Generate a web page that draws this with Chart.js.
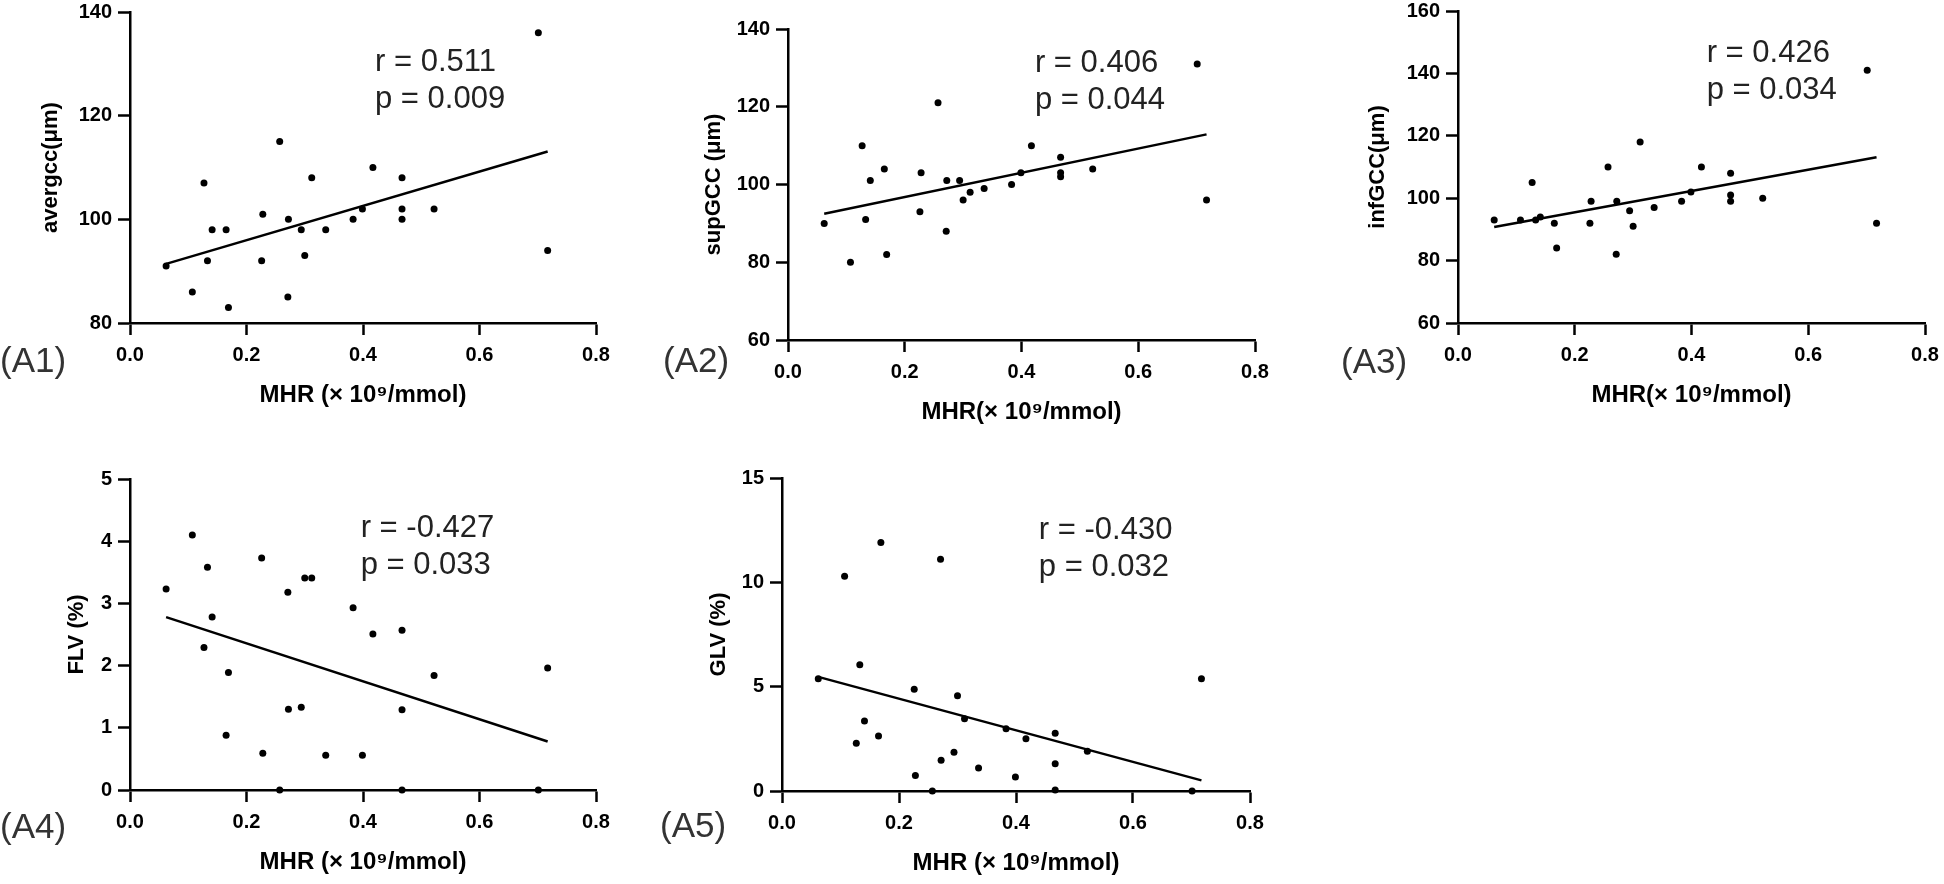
<!DOCTYPE html>
<html>
<head>
<meta charset="utf-8">
<script src="https://cdn.jsdelivr.net/npm/chart.js@4.4.1/dist/chart.umd.min.js"></script>
<style>
  html, body { margin: 0; padding: 0; background: #fff; }
  body { width: 1944px; height: 884px; position: relative; overflow: hidden; }
  canvas { position: absolute; }
</style>
</head>
<body>
<canvas id="a1"></canvas>
<canvas id="a2"></canvas>
<canvas id="a3"></canvas>
<canvas id="a4"></canvas>
<canvas id="a5"></canvas>
<script>
// MHR (x10^9/mmol), same patients in every panel
const mhr = [0.062, 0.107, 0.127, 0.133, 0.141, 0.165, 0.169, 0.226, 0.228, 0.257, 0.271, 0.272, 0.294,
             0.300, 0.312, 0.336, 0.383, 0.399, 0.417, 0.467, 0.467, 0.467, 0.522, 0.701, 0.717];

const avergcc = [91, 86, 107, 92, 98, 98, 83, 92, 101, 115, 85, 100, 98, 93, 108, 98, 100, 102, 110, 108, 102, 100, 102, 136, 94];
const supGCC  = [90, 80, 110, 91, 101, 104, 82, 93, 103, 121, 88, 101, 101, 96, 98, 99, 100, 103, 110, 107, 103, 102, 104, 131, 96];
const infGCC  = [93, 93, 105, 93, 94, 92, 84, 92, 99, 110, 82, 99, 96, 91, 118, 97, 99, 102, 110, 108, 101, 99, 100, 141, 92];
const flv     = [3.23, 4.10, 2.29, 3.58, 2.78, 0.88, 1.89, 3.73, 0.59, 0, 3.18, 1.30, 1.33, 3.41, 3.41, 0.56, 2.93, 0.56, 2.51, 2.57, 1.29, 0, 1.84, 0, 1.96];
const glv     = [5.38, 10.29, 2.29, 6.05, 3.36, 2.63, 11.91, 4.88, 0.74, 0, 11.11, 1.47, 1.86, 4.56, 3.46, 1.10, 2.98, 0.67, 2.50, 2.77, 1.31, 0.05, 1.90, 0, 5.38];

// regression line ends
const fitX = [0.062, 0.717];
const fitAvergcc = [91.4, 113.1];
const fitSupGCC  = [92.5, 112.9];
const fitInfGCC  = [90.8, 113.1];
const fitFlv     = [2.78, 0.78];
const fitGlv     = [5.47, 0.51];

// tick labels
const xTicks = [0, 0.2, 0.4, 0.6, 0.8];
const ticksA1 = [80, 100, 120, 140];
const ticksA2 = [60, 80, 100, 120, 140];
const ticksA3 = [60, 80, 100, 120, 140, 160];
const ticksA4 = [0, 1, 2, 3, 4, 5];
const ticksA5 = [0, 5, 10, 15];

const FONT = "'Liberation Sans', Arial, sans-serif";
Chart.defaults.font.family = FONT;
Chart.defaults.color = '#000';

const Y_AXIS_W = 140;   // fixed room left of the plot
const X_AXIS_H = 100;   // fixed room below the plot
const Y_TITLE_SIZE = 22;
const X_TITLE_SIZE = 24;

const panels = [
  { id: 'a1', box: [130, 12, 596, 323], ys: avergcc, fit: fitAvergcc, yTicks: ticksA1,
    yTitle: 'avergcc(μm)', xTitle: 'MHR (× 10⁹/mmol)', yTitleDx: -79,
    r: '0.511', p: '0.009', at: [0.4206, 130.2], label: '(A1)', labelAt: [-130, 39] },
  { id: 'a2', box: [788, 29, 1255, 340], ys: supGCC, fit: fitSupGCC, yTicks: ticksA2,
    yTitle: 'supGCC (μm)', xTitle: 'MHR(× 10⁹/mmol)', yTitleDx: -74.5,
    r: '0.406', p: '0.044', at: [0.423, 131.2], label: '(A2)', labelAt: [-125, 22] },
  { id: 'a3', box: [1458, 11, 1925, 323], ys: infGCC, fit: fitInfGCC, yTicks: ticksA3,
    yTitle: 'infGCC(μm)', xTitle: 'MHR(× 10⁹/mmol)', yTitleDx: -79.6,
    r: '0.426', p: '0.034', at: [0.426, 146.5], label: '(A3)', labelAt: [-117, 40] },
  { id: 'a4', box: [130, 479, 596, 790], ys: flv, fit: fitFlv, yTicks: ticksA4,
    yTitle: 'FLV (%)', xTitle: 'MHR (× 10⁹/mmol)', yTitleDx: -53,
    r: '-0.427', p: '0.033', at: [0.396, 4.21], label: '(A4)', labelAt: [-130, 38] },
  { id: 'a5', box: [782, 478, 1250, 791], ys: glv, fit: fitGlv, yTicks: ticksA5,
    yTitle: 'GLV (%)', xTitle: 'MHR (× 10⁹/mmol)', yTitleDx: -63.2,
    r: '-0.430', p: '0.032', at: [0.439, 12.51], label: '(A5)', labelAt: [-122, 36] },
];

// r / p statistics and the (An) panel tag
const panelText = {
  id: 'panelText',
  afterDraw(chart, args, opts) {
    const { ctx, chartArea, scales } = chart;
    ctx.save();
    ctx.textAlign = 'left';
    ctx.textBaseline = 'middle';
    ctx.fillStyle = '#222';
    ctx.font = '31px ' + FONT;
    const x = scales.x.getPixelForValue(opts.at[0]);
    const y = scales.y.getPixelForValue(opts.at[1]);
    ctx.fillText('r = ' + opts.r, x, y);
    ctx.fillText('p = ' + opts.p, x, y + 37);
    ctx.fillStyle = '#333';
    ctx.font = '35px ' + FONT;
    ctx.fillText(opts.label, chartArea.left + opts.labelAt[0], chartArea.bottom + opts.labelAt[1]);
    ctx.restore();
  }
};

function axisStyle() {
  return {
    grid: { display: true, drawOnChartArea: false, drawTicks: true, tickLength: 12, tickWidth: 2.5, tickColor: '#000' },
    border: { display: true, color: '#000', width: 2.5 },
  };
}

function makePanel(cfg) {
  const [L, T, R, B] = cfg.box;
  const el = document.getElementById(cfg.id);
  const w = R - L + Y_AXIS_W + 40;
  const h = B - T + 40 + X_AXIS_H;
  el.width = w; el.height = h;
  el.style.width = w + 'px'; el.style.height = h + 'px';
  el.style.left = (L - Y_AXIS_W) + 'px';
  el.style.top = (T - 40) + 'px';

  return new Chart(el, {
    type: 'scatter',
    data: {
      datasets: [
        {
          label: 'fit',
          type: 'line',
          data: fitX.map((x, i) => ({ x, y: cfg.fit[i] })),
          borderColor: '#000',
          borderWidth: 2.5,
          pointRadius: 0,
          fill: false,
          clip: false,
        },
        {
          label: 'patients',
          data: mhr.map((x, i) => ({ x, y: cfg.ys[i] })),
          backgroundColor: '#000',
          borderColor: '#000',
          pointRadius: 3.5,
          borderWidth: 0,
          clip: false,
        },
      ],
    },
    options: {
      responsive: false,
      devicePixelRatio: 1,
      animation: false,
      events: [],
      layout: { padding: { left: 0, top: 40, right: 40, bottom: 0 } },
      plugins: {
        legend: { display: false },
        tooltip: { enabled: false },
        panelText: { r: cfg.r, p: cfg.p, at: cfg.at, label: cfg.label, labelAt: cfg.labelAt },
      },
      scales: {
        x: {
          type: 'linear',
          position: 'bottom',
          min: 0,
          max: 0.8,
          ...axisStyle(),
          afterBuildTicks: (s) => { s.ticks = xTicks.map(v => ({ value: v })); },
          afterFit: (s) => { s.height = X_AXIS_H; },
          ticks: {
            padding: 8,
            color: '#000',
            font: { size: 20, weight: 'bold' },
            maxRotation: 0,
            callback: (v) => Number(v).toFixed(1),
          },
          title: {
            display: true,
            text: cfg.xTitle,
            color: '#000',
            font: { size: X_TITLE_SIZE, weight: 'bold' },
            padding: { top: 0, bottom: X_AXIS_H - 72 - X_TITLE_SIZE * 0.6 },
          },
        },
        y: {
          type: 'linear',
          position: 'left',
          min: cfg.yTicks[0],
          max: cfg.yTicks[cfg.yTicks.length - 1],
          ...axisStyle(),
          afterBuildTicks: (s) => { s.ticks = cfg.yTicks.map(v => ({ value: v })); },
          afterFit: (s) => { s.width = Y_AXIS_W; },
          ticks: {
            padding: 6,
            color: '#000',
            font: { size: 20, weight: 'bold' },
            callback: (v) => String(v),
          },
          title: {
            display: true,
            text: cfg.yTitle,
            color: '#000',
            font: { size: Y_TITLE_SIZE, weight: 'bold' },
            padding: { top: Y_AXIS_W + cfg.yTitleDx - Y_TITLE_SIZE * 0.6, bottom: 0 },
          },
        },
      },
    },
    plugins: [panelText],
  });
}

panels.forEach(makePanel);
</script>
</body>
</html>
